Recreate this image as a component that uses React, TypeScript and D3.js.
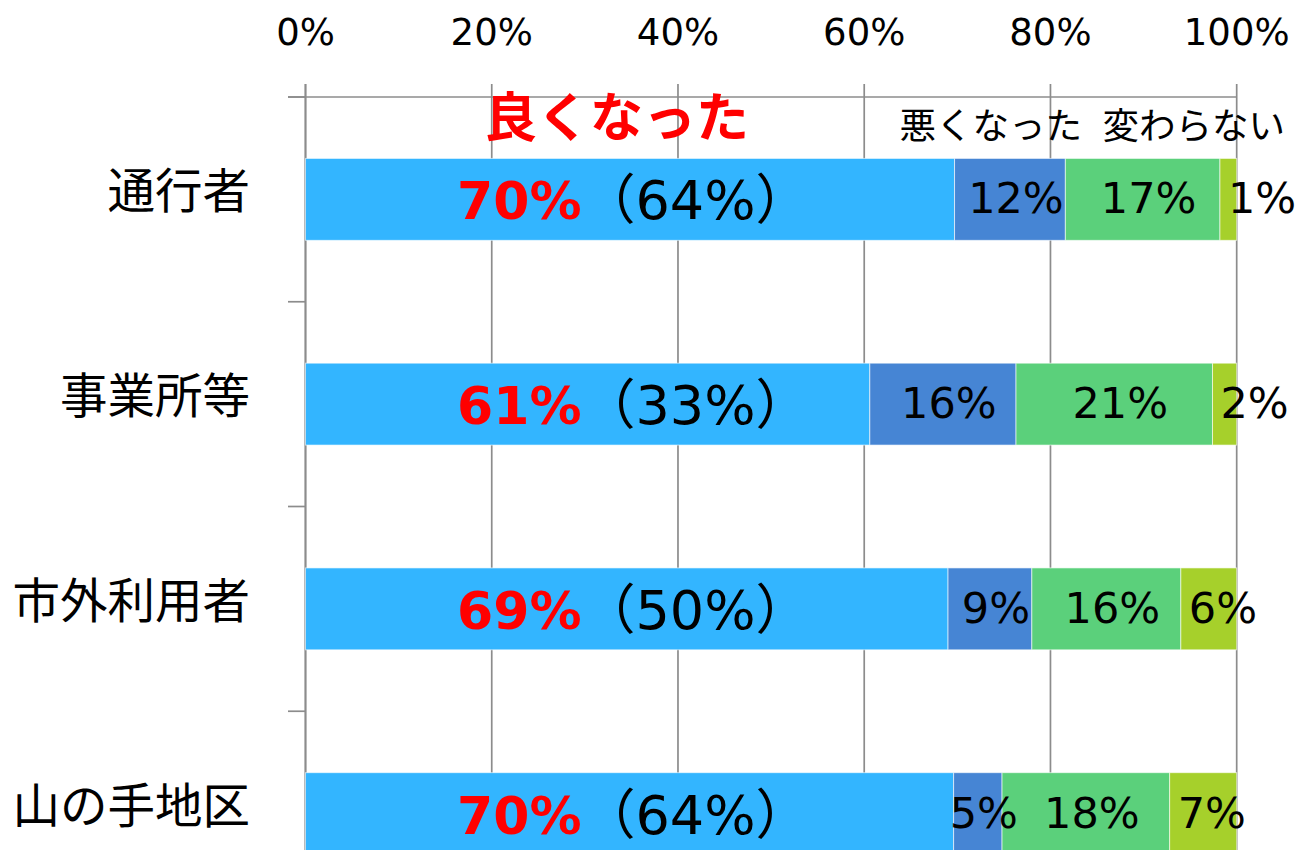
import React, { useRef, useEffect } from "react";
import * as d3 from "d3";

const categories = ["通行者", "事業所等", "市外利用者", "山の手地区"];
const seriesNames = ["良くなった", "悪くなった", "変わらない", "無回答"];

// shares in %
const good = [69.7, 60.6, 69.0, 69.6];
const worse = [11.9, 15.7, 9.0, 5.2];
const same = [16.6, 21.1, 16.0, 18.0];
const noAnswer = [1.8, 2.6, 6.0, 7.2];

// printed labels
const goodLabels = ["70%", "61%", "69%", "70%"];
const prevGoodLabels = ["（64%）", "（33%）", "（50%）", "（64%）"];
const worseLabels = ["12%", "16%", "9%", "5%"];
const sameLabels = ["17%", "21%", "16%", "18%"];
const noAnswerLabels = ["1%", "2%", "6%", "7%"];

const xTicks = [0, 20, 40, 60, 80, 100];
const colors = ["#33B5FF", "#4685D4", "#5BD07B", "#A6D02B"];

const WIDTH = 1298;
const HEIGHT = 850;
const JP = "'Noto Sans CJK JP', sans-serif";
const NUM = "'DejaVu Sans', 'Noto Sans CJK JP', sans-serif";

const App: React.FC = () => {
  const svgRef = useRef<SVGSVGElement | null>(null);

  useEffect(() => {
    const svg = d3.select(svgRef.current);
    svg.selectAll("*").remove();

    const x = d3.scaleLinear().domain([0, 100]).range([305.5, 1236.7]);
    const y = d3
      .scaleBand<string>()
      .domain(categories)
      .range([97, 916])
      .paddingInner(0.6)
      .paddingOuter(0.3);

    const rows = categories.map((c, i) => ({
      cat: c,
      [seriesNames[0]]: good[i],
      [seriesNames[1]]: worse[i],
      [seriesNames[2]]: same[i],
      [seriesNames[3]]: noAnswer[i],
    }));
    const stacked = d3.stack<any>().keys(seriesNames)(rows);

    const grid = "#8c8c8c";

    // vertical gridlines + top tick marks
    svg
      .append("g")
      .selectAll("line")
      .data(xTicks)
      .enter()
      .append("line")
      .attr("x1", (d) => x(d))
      .attr("x2", (d) => x(d))
      .attr("y1", 84)
      .attr("y2", HEIGHT)
      .attr("stroke", grid)
      .attr("stroke-width", (d) => (d === 0 ? 2.2 : 1.7));

    // top axis line
    svg
      .append("line")
      .attr("x1", 288)
      .attr("x2", x(100))
      .attr("y1", 97)
      .attr("y2", 97)
      .attr("stroke", grid)
      .attr("stroke-width", 1.7);

    // left ticks at band boundaries
    const boundaries = categories.map(
      (c) => (y(c) as number) - (y.step() * y.paddingInner()) / 2
    );
    svg
      .append("g")
      .selectAll("line")
      .data(boundaries)
      .enter()
      .append("line")
      .attr("x1", 288)
      .attr("x2", x(0))
      .attr("y1", (d) => d)
      .attr("y2", (d) => d)
      .attr("stroke", grid)
      .attr("stroke-width", 1.7);

    // tick labels
    svg
      .append("g")
      .selectAll("text")
      .data(xTicks)
      .enter()
      .append("text")
      .attr("x", (d) => x(d))
      .attr("y", 45)
      .attr("text-anchor", "middle")
      .style("font-family", NUM)
      .style("font-size", "37px")
      .style("fill", "#000")
      .text((d) => `${d}%`);

    // bars
    stacked.forEach((s, si) => {
      svg
        .append("g")
        .selectAll("rect")
        .data(s)
        .enter()
        .append("rect")
        .attr("x", (d) => x(d[0]))
        .attr("y", (d) => y(d.data.cat) as number)
        .attr("width", (d) => x(d[1]) - x(d[0]))
        .attr("height", y.bandwidth())
        .attr("fill", colors[si])
        .attr("stroke", "#ffffff")
        .attr("stroke-opacity", 0.6)
        .attr("stroke-width", 1);
    });

    const cy = (c: string) => (y(c) as number) + y.bandwidth() / 2;

    // category labels
    svg
      .append("g")
      .selectAll("text")
      .data(categories)
      .enter()
      .append("text")
      .attr("x", 250)
      .attr("y", (d) => cy(d) + 9)
      .attr("text-anchor", "end")
      .style("font-family", JP)
      .style("font-size", "47.5px")
      .style("fill", "#000")
      .text((d) => d);

    // good labels: red current + previous in brackets
    categories.forEach((c, i) => {
      const t = svg
        .append("text")
        .attr("x", x(35.2))
        .attr("y", cy(c) + 20)
        .attr("text-anchor", "middle")
        .style("font-family", NUM);
      t.append("tspan")
        .style("font-size", "52px")
        .style("font-weight", "bold")
        .style("fill", "#FF0000")
        .text(goodLabels[i]);
      t.append("tspan")
        .style("font-size", "54px")
        .style("fill", "#000")
        .text(prevGoodLabels[i]);
    });

    // middle series labels
    [worseLabels, sameLabels].forEach((labels, k) => {
      const s = stacked[k + 1];
      svg
        .append("g")
        .selectAll("text")
        .data(s)
        .enter()
        .append("text")
        .attr("x", (d) => (x(d[0]) + x(d[1])) / 2 + 6)
        .attr("y", (d) => cy(d.data.cat) + 14)
        .attr("text-anchor", "middle")
        .style("font-family", NUM)
        .style("font-size", "43px")
        .style("fill", "#000")
        .text((d, i) => labels[i]);
    });

    // last series labels, placed from the segment start
    svg
      .append("g")
      .selectAll("text")
      .data(stacked[3])
      .enter()
      .append("text")
      .attr("x", (d) => x(d[0]) + 8)
      .attr("y", (d) => cy(d.data.cat) + 14)
      .attr("text-anchor", "start")
      .style("font-family", NUM)
      .style("font-size", "43px")
      .style("fill", "#000")
      .text((d, i) => noAnswerLabels[i]);

    // series headers above the first bar
    svg
      .append("text")
      .attr("x", x(33.4))
      .attr("y", 137)
      .attr("text-anchor", "middle")
      .style("font-family", JP)
      .style("font-size", "53px")
      .style("font-weight", "bold")
      .style("fill", "#FF0000")
      .text(seriesNames[0]);
    svg
      .append("text")
      .attr("x", x(73.6))
      .attr("y", 139)
      .attr("text-anchor", "middle")
      .style("font-family", JP)
      .style("font-size", "36.5px")
      .style("fill", "#000")
      .text(seriesNames[1]);
    svg
      .append("text")
      .attr("x", x(95.4))
      .attr("y", 139)
      .attr("text-anchor", "middle")
      .style("font-family", JP)
      .style("font-size", "36.5px")
      .style("fill", "#000")
      .text(seriesNames[2]);
  }, []);

  return (
    <svg
      ref={svgRef}
      width={WIDTH}
      height={HEIGHT}
      style={{ position: "absolute", left: 0, top: 0, background: "#fff" }}
    />
  );
};

export default App;
